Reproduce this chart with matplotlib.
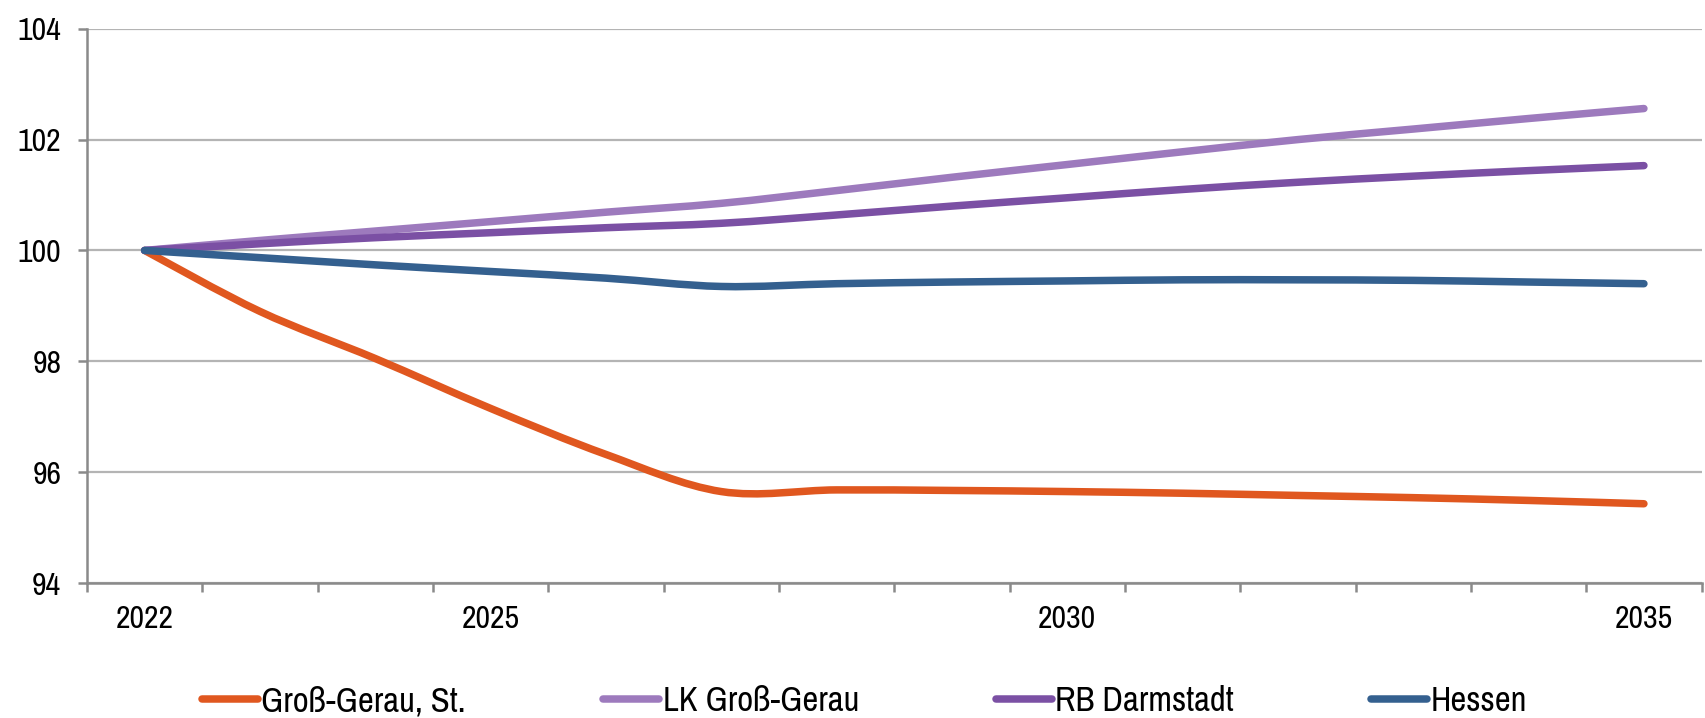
import numpy as np
import matplotlib
matplotlib.use("Agg")
import matplotlib.pyplot as plt
from matplotlib.path import Path
from matplotlib.patches import PathPatch
from matplotlib.lines import Line2D

plt.rcParams['font.family'] = ['Archivo Narrow', 'Liberation Sans', 'DejaVu Sans']

years = list(range(2022, 2036))
shown_years = [2022, 2025, 2030, 2035]

gross_gerau_st = [100, 98.9, 98.05, 97.15, 96.32, 95.65, 95.68, 95.67, 95.65, 95.62, 95.58, 95.54, 95.49, 95.43]
lk_gross_gerau = [100, 100.18, 100.35, 100.52, 100.69, 100.85, 101.08, 101.32, 101.55, 101.78, 102.0, 102.19, 102.38, 102.56]
rb_darmstadt = [100, 100.12, 100.23, 100.32, 100.41, 100.49, 100.64, 100.8, 100.95, 101.1, 101.23, 101.34, 101.44, 101.53]
hessen = [100, 99.87, 99.74, 99.62, 99.5, 99.35, 99.4, 99.43, 99.45, 99.47, 99.47, 99.46, 99.43, 99.40]

series = [
    ("Groß-Gerau, St.", gross_gerau_st, "#e0571f"),
    ("LK Groß-Gerau", lk_gross_gerau, "#9d7abd"),
    ("RB Darmstadt", rb_darmstadt, "#7b50a4"),
    ("Hessen", hessen, "#34608f"),
]


def smooth_path(x, y):
    # Excel-style smoothed line: cubic bezier with catmull-rom tangents
    x = np.asarray(x, float)
    y = np.asarray(y, float)
    n = len(x)
    verts = [(x[0], y[0])]
    codes = [Path.MOVETO]
    for i in range(n - 1):
        p0 = np.array([x[max(i - 1, 0)], y[max(i - 1, 0)]])
        p1 = np.array([x[i], y[i]])
        p2 = np.array([x[i + 1], y[i + 1]])
        p3 = np.array([x[min(i + 2, n - 1)], y[min(i + 2, n - 1)]])
        c1 = p1 + (p2 - p0) / 6
        c2 = p2 - (p3 - p1) / 6
        verts += [tuple(c1), tuple(c2), tuple(p2)]
        codes += [Path.CURVE4] * 3
    return Path(verts, codes)


fig = plt.figure(figsize=(17.05, 7.18), dpi=100)
ax = fig.add_axes([0.051, 0.188, 0.947, 0.772])

xpos = np.arange(len(years))
handles = []
for name, vals, col in series:
    patch = PathPatch(smooth_path(xpos, vals), facecolor='none', edgecolor=col,
                      lw=5.4, capstyle='round', joinstyle='round', zorder=3)
    ax.add_patch(patch)
    handles.append(Line2D([], [], color=col, lw=5.4, solid_capstyle='round'))

ax.set_xlim(-0.5, len(years) - 0.5)
ax.set_ylim(94, 104)
ax.set_yticks(range(94, 105, 2))
ax.yaxis.grid(True, color='#b4b4b4', lw=1.6)
ax.set_axisbelow(True)

for s in ['top', 'right']:
    ax.spines[s].set_visible(False)
for s in ['left', 'bottom']:
    ax.spines[s].set_color('#8a8a8a')
    ax.spines[s].set_linewidth(1.8)

ax.set_xticks([years.index(y) for y in shown_years])
ax.set_xticklabels([str(y) for y in shown_years])
ax.set_xticks(np.arange(-0.5, len(years), 1), minor=True)
ax.tick_params(axis='x', which='major', length=0, pad=16, labelsize=23)
ax.tick_params(axis='x', which='minor', length=6.5, width=1.8, color='#8a8a8a', direction='out')
ax.tick_params(axis='y', length=6.5, width=1.8, color='#8a8a8a', direction='out', pad=12, labelsize=23)

fig.legend(handles, [s[0] for s in series], loc='center left',
           bbox_to_anchor=(202 / 1705, 1 - 701 / 718), ncol=4, frameon=False,
           fontsize=25, handlelength=1.6, handletextpad=0.11, columnspacing=3.95,
           borderpad=0, borderaxespad=0)

fig.savefig('out.png', dpi=100)
